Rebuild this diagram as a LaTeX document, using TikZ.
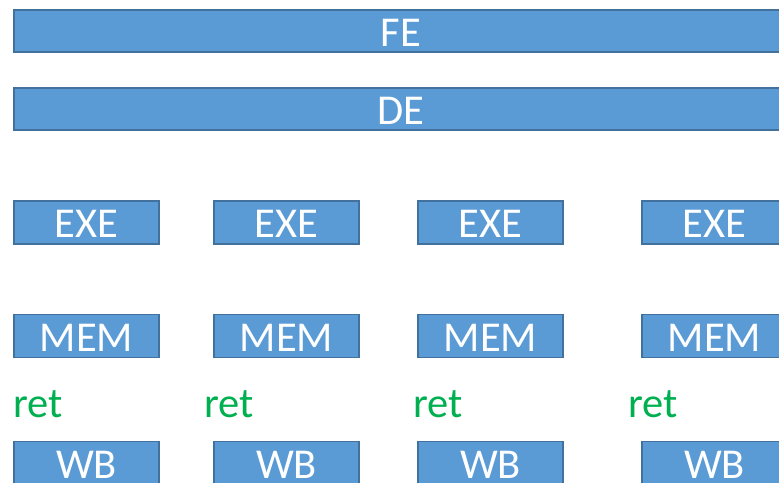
\documentclass[tikz,border=0pt]{standalone}
\usepackage{fontspec}
\setmainfont{Carlito}
\usepackage{xcolor}
\definecolor{StageFill}{HTML}{5B9BD5}
\definecolor{StageLine}{HTML}{41719C}
\definecolor{RetGreen}{HTML}{00B050}
\tikzset{
  stage/.style={draw=StageLine,fill=StageFill,line width=1.8pt,inner sep=0pt,
    text=white,font=\fontsize{42.5}{42.5}\selectfont,text height=30.5pt,text depth=0pt},
  bar/.style={stage,minimum width=774pt,minimum height=42pt},
  unit/.style={stage,minimum width=145pt,minimum height=43pt},
  retlabel/.style={anchor=base west,inner sep=0pt,text=RetGreen,font=\fontsize{42.5}{42.5}\selectfont}
}
\begin{document}
\begin{tikzpicture}[x=1pt,y=-1pt]
\path[use as bounding box] (0,0) rectangle (779,482);
\clip (0,0) rectangle (779,482);
\node[bar] (fe) at (401,31) {FE};
\node[bar] (de) at (401,109) {DE};
\node[unit] (exeA) at (86.5,222.5) {EXE};
\node[unit] (exeB) at (286.5,222.5) {EXE};
\node[unit] (exeC) at (490.5,222.5) {EXE};
\node[unit] (exeD) at (714.5,222.5) {EXE};
\node[unit] (memA) at (86.5,336) {MEM};
\node[unit] (memB) at (286.5,336) {MEM};
\node[unit] (memC) at (490.5,336) {MEM};
\node[unit] (memD) at (714.5,336) {MEM};
\node[retlabel] (retA) at (13,417) {ret};
\node[retlabel] (retB) at (204,417) {ret};
\node[retlabel] (retC) at (413,417) {ret};
\node[retlabel] (retD) at (628,417) {ret};
\node[unit] (wbA) at (86.5,463) {WB};
\node[unit] (wbB) at (286.5,463) {WB};
\node[unit] (wbC) at (490.5,463) {WB};
\node[unit] (wbD) at (714.5,463) {WB};
\end{tikzpicture}
\end{document}
